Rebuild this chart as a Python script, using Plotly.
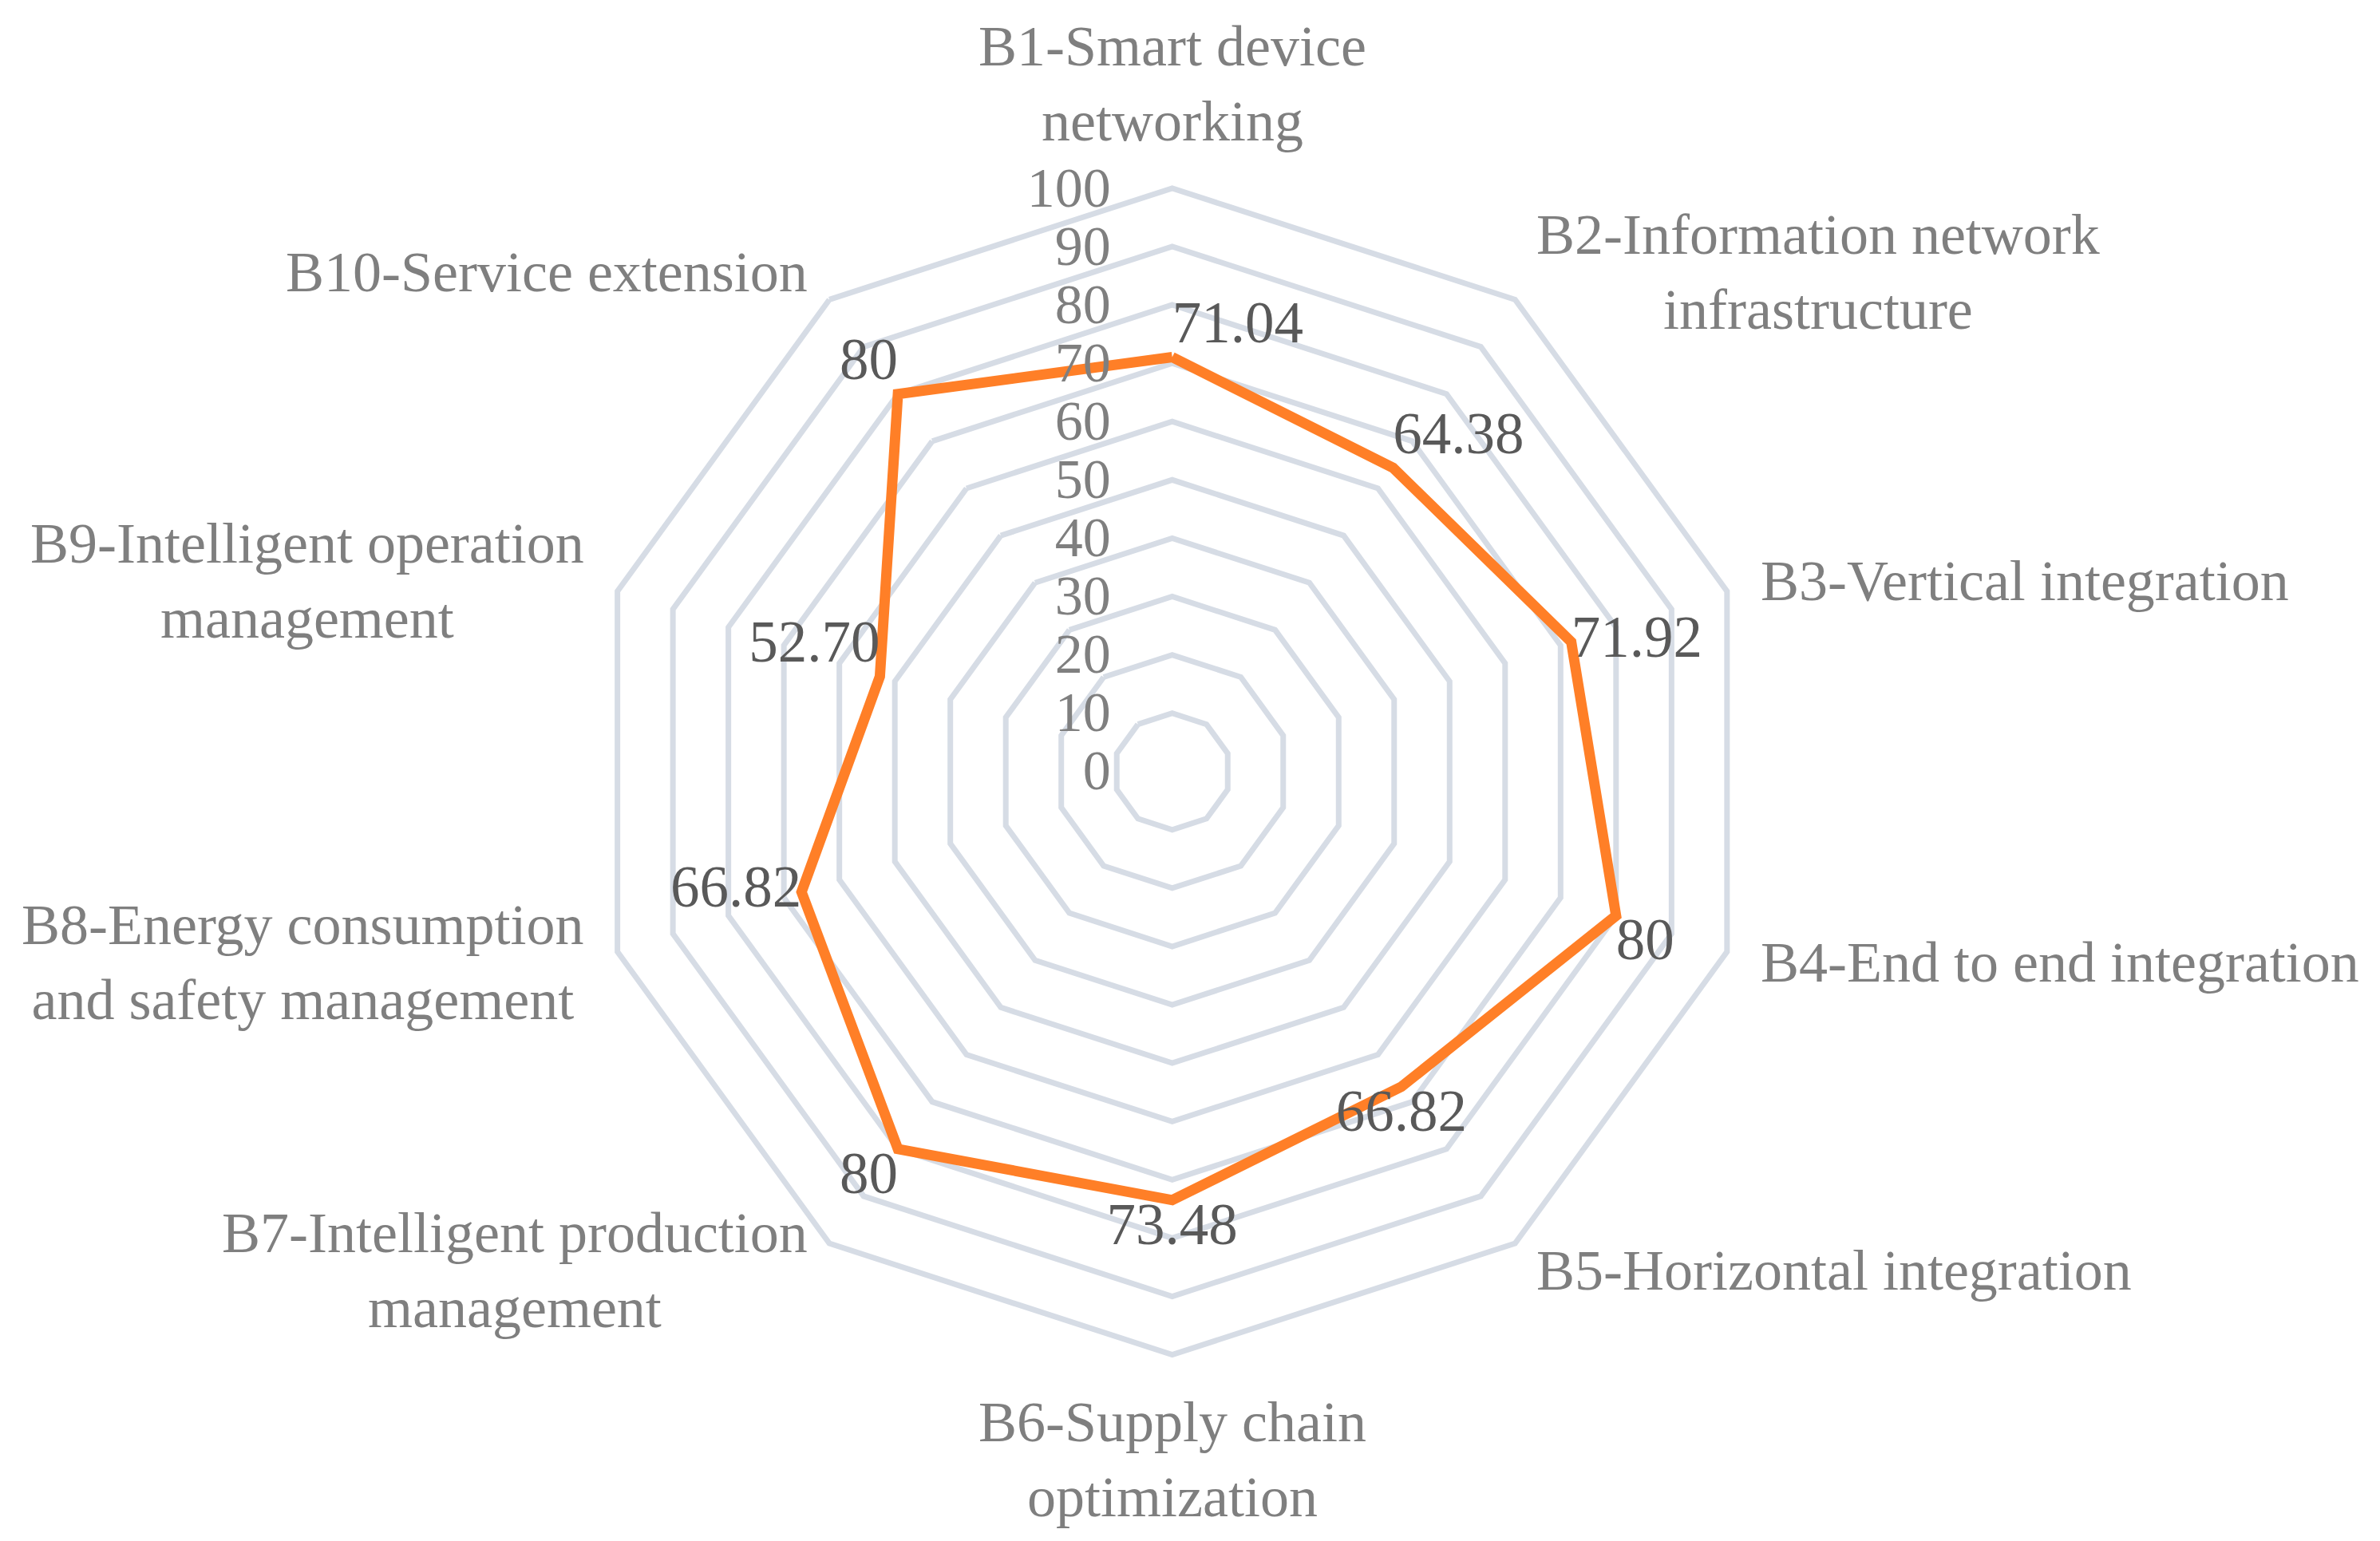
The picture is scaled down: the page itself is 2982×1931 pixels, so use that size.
import math
import plotly.graph_objects as go

categories = [
    "B1-Smart device<br>networking",
    "B2-Information network<br>infrastructure",
    "B3-Vertical integration",
    "B4-End to end integration",
    "B5-Horizontal integration",
    "B6-Supply chain<br>optimization",
    "B7-Intelligent production<br>management",
    "B8-Energy consumption<br>and safety management",
    "B9-Intelligent operation<br>management",
    "B10-Service extension",
]
values = [71.04, 64.38, 71.92, 80, 66.82, 73.48, 80, 66.82, 52.70, 80]
value_labels = ["71.04", "64.38", "71.92", "80", "66.82", "73.48", "80", "66.82", "52.70", "80"]
label_positions = ["top right", "top right", "middle right", "bottom right", "bottom center",
                   "bottom center", "bottom left", "middle left", "top left", "top left"]
radial_ticks = [0, 10, 20, 30, 40, 50, 60, 70, 80, 90, 100]

FONT = "Liberation Serif"
GRID = "#D6DCE5"
W, H = 2982, 1931
DOM_X = [0.2447, 0.735]
DOM_Y = [0.125, 0.882]

fig = go.Figure()
fig.add_trace(go.Scatterpolar(
    r=values + [values[0]],
    theta=categories + [categories[0]],
    mode="lines",
    line=dict(color="#FF7F27", width=13),
    hoverinfo="skip",
    showlegend=False,
))
fig.add_trace(go.Scatterpolar(
    r=values,
    theta=categories,
    mode="text",
    text=value_labels,
    textposition=label_positions,
    textfont=dict(family=FONT, size=73, color="#595959"),
    showlegend=False,
))

# category labels as annotations placed just outside the outer polygon
cx = (DOM_X[0] + DOM_X[1]) / 2
cy = (DOM_Y[0] + DOM_Y[1]) / 2
R = min((DOM_X[1] - DOM_X[0]) * W, (DOM_Y[1] - DOM_Y[0]) * H) / 2
gap = 42
n = len(categories)
annotations = []
for i, cat in enumerate(categories):
    ang = math.radians(90 - 360.0 * i / n)
    c, s = math.cos(ang), math.sin(ang)
    x = cx + (R + gap) * c / W
    y = cy + (R + gap) * s / H
    if abs(c) < 1e-6:
        xa = "center"
        ya = "bottom" if s > 0 else "top"
    else:
        xa = "left" if c > 0 else "right"
        ya = "middle"
    annotations.append(dict(
        x=x, y=y, xref="paper", yref="paper", text=cat, showarrow=False,
        xanchor=xa, yanchor=ya, align="center",
        font=dict(family=FONT, size=72, color="#7F7F7F"),
    ))

fig.update_layout(
    width=W, height=H,
    margin=dict(l=0, r=0, t=0, b=0),
    paper_bgcolor="white",
    plot_bgcolor="white",
    showlegend=False,
    annotations=annotations,
    polar=dict(
        domain=dict(x=DOM_X, y=DOM_Y),
        bgcolor="white",
        gridshape="linear",
        radialaxis=dict(
            range=[0, 100],
            tickvals=radial_ticks,
            ticktext=[str(v) for v in radial_ticks],
            angle=90,
            side="counterclockwise",
            showline=False,
            showgrid=True,
            gridcolor=GRID,
            gridwidth=7,
            ticks="outside",
            ticklen=52,
            tickcolor="rgba(0,0,0,0)",
            tickangle=90,
            tickfont=dict(family=FONT, size=70, color="#7F7F7F"),
        ),
        angularaxis=dict(
            direction="clockwise",
            rotation=90,
            showline=True,
            linecolor=GRID,
            linewidth=7,
            showgrid=False,
            showticklabels=False,
            ticks="",
        ),
    ),
)

fig.write_html("out.html")
